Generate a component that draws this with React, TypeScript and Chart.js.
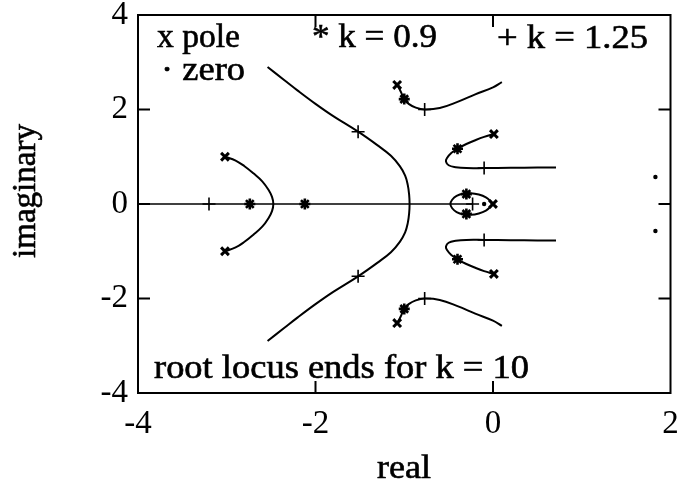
import { useEffect, useRef } from "react";
import { Chart, registerables } from "chart.js";

Chart.register(...registerables);

type Pt = [number, number];

// axis ranges and tick labels
const xRange: Pt = [-4, 2];
const yRange: Pt = [-4, 4];
const xTickLabels = ["-4", "-2", "0", "2"];
const yTickLabels = ["-4", "-2", "0", "2", "4"];

// root locus branches (real, imaginary)
const realAxisBranch: Pt[] = [[-4, 0], [-0.23, 0]];

const leftBranch: Pt[] = [
  [-3.02, 1.0], [-2.9, 0.92], [-2.8, 0.8], [-2.7, 0.65], [-2.6, 0.48], [-2.53, 0.3],
  [-2.49, 0.15], [-2.475, 0], [-2.49, -0.15], [-2.53, -0.3], [-2.6, -0.48], [-2.7, -0.65],
  [-2.8, -0.8], [-2.9, -0.92], [-3.02, -1.0],
];

const outerBranch: Pt[] = [
  [-2.54, 2.9], [-2.35, 2.62], [-2.2, 2.4], [-2.0, 2.12], [-1.8, 1.86], [-1.52, 1.53],
  [-1.3, 1.24], [-1.15, 1.02], [-1.05, 0.8], [-0.99, 0.6], [-0.96, 0.4], [-0.945, 0.2],
  [-0.94, 0], [-0.945, -0.2], [-0.96, -0.4], [-0.99, -0.6], [-1.05, -0.8], [-1.15, -1.02],
  [-1.3, -1.24], [-1.52, -1.53], [-1.8, -1.86], [-2.0, -2.12], [-2.2, -2.4], [-2.35, -2.62],
  [-2.54, -2.9],
];

const upperFarBranch: Pt[] = [
  [-1.08, 2.52], [-1.04, 2.38], [-1.0, 2.22], [-0.95, 2.12], [-0.87, 2.04], [-0.77, 2.0],
  [-0.6, 2.03], [-0.4, 2.16], [-0.2, 2.32], [0, 2.47], [0.1, 2.58],
];
const lowerFarBranch: Pt[] = [
  [-1.08, -2.52], [-1.04, -2.38], [-1.0, -2.22], [-0.95, -2.12], [-0.87, -2.04], [-0.77, -2.0],
  [-0.6, -2.03], [-0.4, -2.16], [-0.2, -2.32], [0, -2.47], [0.1, -2.58],
];

const upperHookBranch: Pt[] = [
  [0.01, 1.48], [-0.1, 1.42], [-0.2, 1.35], [-0.3, 1.27], [-0.4, 1.17], [-0.47, 1.08],
  [-0.52, 0.97], [-0.53, 0.9], [-0.5, 0.82], [-0.42, 0.78], [-0.3, 0.76], [-0.1, 0.76],
  [0.2, 0.765], [0.5, 0.77], [0.71, 0.77],
];
const lowerHookBranch: Pt[] = [
  [0.01, -1.48], [-0.1, -1.42], [-0.2, -1.35], [-0.3, -1.27], [-0.4, -1.17], [-0.47, -1.08],
  [-0.52, -0.97], [-0.53, -0.9], [-0.5, -0.82], [-0.42, -0.78], [-0.3, -0.76], [-0.1, -0.76],
  [0.2, -0.765], [0.5, -0.77], [0.71, -0.77],
];

const loopBranch: Pt[] = [
  [-0.01, 0], [-0.03, 0.06], [-0.08, 0.14], [-0.16, 0.2], [-0.25, 0.23], [-0.33, 0.22],
  [-0.41, 0.17], [-0.46, 0.09], [-0.48, 0], [-0.46, -0.09], [-0.41, -0.17], [-0.33, -0.22],
  [-0.25, -0.23], [-0.16, -0.2], [-0.08, -0.14], [-0.03, -0.06], [-0.01, 0],
];

// open-loop poles and zeros
const poles: Pt[] = [
  [-3.02, 1.0], [-3.02, -1.0], [-1.08, 2.52], [-1.08, -2.52], [0.01, 1.48], [0.01, -1.48], [0.0, 0],
];
const zeros: Pt[] = [[1.83, 0.57], [1.83, -0.57], [-0.1, 0]];

// closed-loop roots at k = 0.9 and k = 1.25
const rootsK090: Pt[] = [
  [-2.74, 0], [-2.12, 0], [-1.0, 2.22], [-1.0, -2.22], [-0.4, 1.17], [-0.4, -1.17],
  [-0.3, 0.21], [-0.3, -0.21],
];
const rootsK125: Pt[] = [
  [-3.2, 0], [-1.52, 1.53], [-1.52, -1.53], [-0.77, 2.0], [-0.77, -2.0], [-0.1, 0.76],
  [-0.1, -0.76], [-0.23, 0],
];

const SERIF = '"Liberation Serif", "Times New Roman", Times, serif';
const FONT_SIZE = 33;

const toXY = (pts: Pt[]) => pts.map(([x, y]) => ({ x, y }));

// draws a text line stretched horizontally to a given width
function fittedText(
  ctx: CanvasRenderingContext2D, text: string, left: number, baseline: number,
  width: number, size: number
) {
  ctx.save();
  ctx.font = `${size}px ${SERIF}`;
  const w = ctx.measureText(text).width;
  ctx.translate(left, baseline);
  ctx.scale(width / w, 1);
  ctx.textAlign = "left";
  ctx.textBaseline = "alphabetic";
  ctx.fillStyle = "#000";
  ctx.strokeStyle = "#000";
  ctx.lineWidth = 0.6;
  ctx.fillText(text, 0, 0);
  ctx.strokeText(text, 0, 0);
  ctx.restore();
}

const framePlugin = {
  id: "frameAndNotes",
  afterDraw(chart: any) {
    const { ctx, chartArea: a, scales } = chart;
    const xs = scales.x;
    const ys = scales.y;
    const tick = 12;
    ctx.save();
    ctx.strokeStyle = "#000";
    ctx.lineWidth = 2;
    ctx.strokeRect(a.left, a.top, a.right - a.left, a.bottom - a.top);
    ctx.beginPath();
    for (const v of [-2, 0]) {
      const px = xs.getPixelForValue(v);
      ctx.moveTo(px, a.bottom); ctx.lineTo(px, a.bottom - tick);
      ctx.moveTo(px, a.top); ctx.lineTo(px, a.top + tick);
    }
    for (const v of [-2, 0, 2]) {
      const py = ys.getPixelForValue(v);
      ctx.moveTo(a.left, py); ctx.lineTo(a.left + tick, py);
      ctx.moveTo(a.right, py); ctx.lineTo(a.right - tick, py);
    }
    ctx.stroke();
    ctx.restore();

    // legend notes
    fittedText(ctx, "x pole", 157, 47, 83, FONT_SIZE);
    fittedText(ctx, "\u00b7 zero", 161, 80, 84, FONT_SIZE);
    fittedText(ctx, "* k = 0.9", 312, 47, 125, FONT_SIZE);
    fittedText(ctx, "+ k = 1.25", 497, 48, 151, FONT_SIZE);
    fittedText(ctx, "root locus ends for k = 10", 154, 378, 375, FONT_SIZE);

    // axis titles
    fittedText(ctx, "real", 377, 478, 54, FONT_SIZE);
    ctx.save();
    ctx.translate(35, 191);
    ctx.rotate(-Math.PI / 2);
    fittedText(ctx, "imaginary", -67, 0, 134, FONT_SIZE);
    ctx.restore();
  },
};

export default function App() {
  const canvasRef = useRef<HTMLCanvasElement | null>(null);

  useEffect(() => {
    if (!canvasRef.current) return;
    const curve = (pts: Pt[], width = 2) => ({
      data: toXY(pts),
      showLine: true,
      borderColor: "#000",
      borderWidth: width,
      pointRadius: 0,
      tension: 0.4,
      fill: false,
    });
    const marks = (pts: Pt[], style: string, radius: number, width: number) => ({
      data: toXY(pts),
      showLine: false,
      pointStyle: style,
      pointRadius: radius,
      pointBorderWidth: width,
      pointBorderColor: "#000",
      pointBackgroundColor: "#000",
      clip: false as any,
    });

    const chart = new Chart(canvasRef.current, {
      type: "scatter",
      data: {
        datasets: [
          { ...curve(realAxisBranch, 1.6), tension: 0 },
          curve(leftBranch),
          curve(outerBranch),
          curve(upperFarBranch),
          curve(lowerFarBranch),
          curve(upperHookBranch),
          curve(lowerHookBranch),
          curve(loopBranch),
          marks(poles, "crossRot", 5.5, 3),
          marks(zeros, "circle", 2.2, 0),
          marks(rootsK090, "star", 5.5, 2.6),
          marks(rootsK125, "cross", 6.5, 1.6),
        ] as any,
      },
      options: {
        animation: false,
        responsive: false,
        layout: { padding: { left: 0, right: 8.5, top: 15, bottom: 0 } },
        plugins: { legend: { display: false }, tooltip: { enabled: false } },
        scales: {
          x: {
            type: "linear",
            min: xRange[0],
            max: xRange[1],
            grid: { display: false },
            border: { display: false },
            ticks: {
              stepSize: 2,
              color: "#000",
              padding: 4,
              maxRotation: 0,
              font: { family: SERIF, size: FONT_SIZE },
              callback: (_v: any, i: number) => xTickLabels[i],
            },
            afterFit: (s: any) => {
              s.height = 101;
              s.paddingLeft = 0;
              s.paddingRight = 0;
            },
          },
          y: {
            type: "linear",
            min: yRange[0],
            max: yRange[1],
            grid: { display: false },
            border: { display: false },
            ticks: {
              stepSize: 2,
              color: "#000",
              padding: 2,
              font: { family: SERIF, size: FONT_SIZE },
              callback: (_v: any, i: number) => yTickLabels[i],
            },
            afterFit: (s: any) => {
              s.width = 138;
              s.paddingTop = 0;
              s.paddingBottom = 0;
            },
          },
        },
      } as any,
      plugins: [framePlugin],
    });
    return () => chart.destroy();
  }, []);

  return (
    <div style={{ position: "absolute", left: 0, top: 0, width: 679, height: 494, background: "#fff" }}>
      <canvas ref={canvasRef} width={679} height={494} style={{ display: "block" }} />
    </div>
  );
}
